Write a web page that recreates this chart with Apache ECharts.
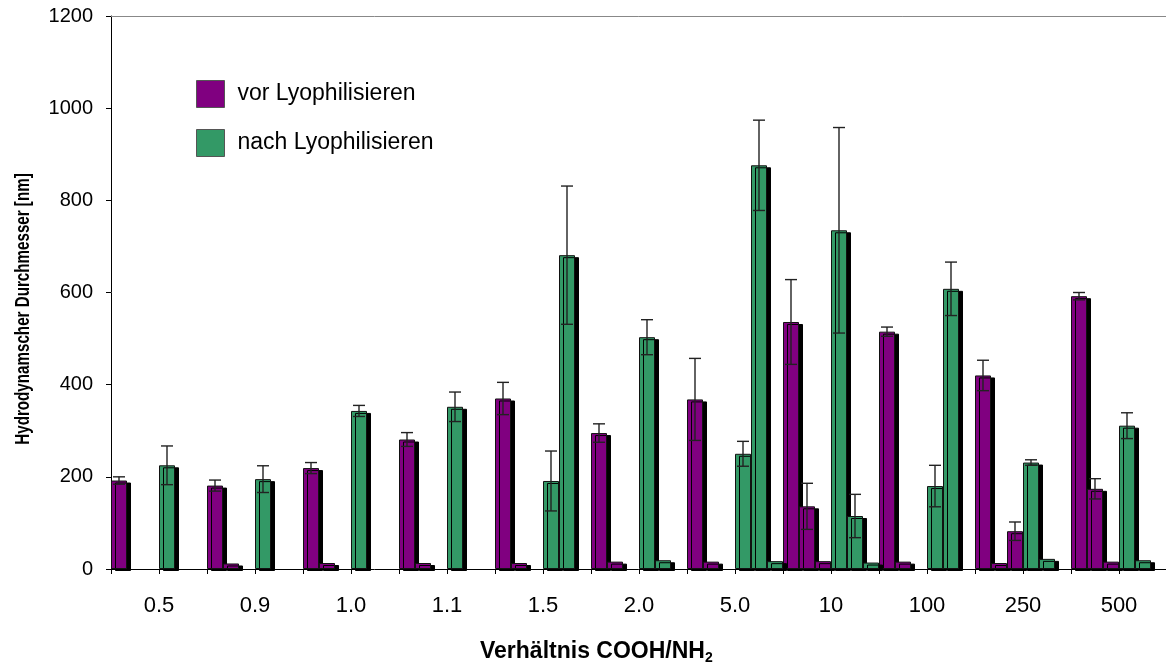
<!DOCTYPE html>
<html>
<head>
<meta charset="utf-8">
<script src="https://cdn.jsdelivr.net/npm/echarts@6/dist/echarts.min.js"></script>
<style>
  html, body { margin: 0; padding: 0; background: #fff; }
  #chart { width: 1166px; height: 668px; }
</style>
</head>
<body>
<div id="chart"></div>
<script>
const FONT = '"Liberation Sans", Arial, sans-serif';

const ratios = ['0.5', '0.9', '1.0', '1.1', '1.5', '2.0', '5.0', '10', '100', '250', '500'];

// vor Lyophilisieren, peaks 1..3 (nm) and their errors
const vorPeak1 = [192, 181, 219, 281, 370, 295, 368, 536, 515, 420, 592];
const vorPeak1Err = [8, 12, 12, 15, 35, 20, 89, 92, 10, 33, 8];
const vorPeak2 = [null, 12, 13, 13, 13, 16, 16, 136, 16, 13, 174];
const vorPeak2Err = [null, null, null, null, null, null, null, 50, null, null, 22];
const vorPeak3 = [null, null, null, null, null, null, null, 17, null, 82, 16];
const vorPeak3Err = [null, null, null, null, null, null, null, null, null, 20, null];

// nach Lyophilisieren
const nachPeak1 = [225, 195, 343, 352, 191, 503, 250, 735, 180, 231, 311];
const nachPeak1Err = [42, 29, 12, 32, 65, 38, 27, 223, 45, 6, 28];
const nachPeak2 = [null, null, null, null, 681, 19, 876, 115, 608, 22, 19];
const nachPeak2Err = [null, null, null, null, 150, null, 98, 47, 58, null, null];
const nachPeak3 = [null, null, null, null, null, null, 17, 14, null, null, null];
const nachPeak3Err = [null, null, null, null, null, null, null, null, null, null, null];

const VOR = 'vor Lyophilisieren';
const NACH = 'nach Lyophilisieren';
const PURPLE = '#800080';
const GREEN = '#339966';

// two slots per ratio: even = vor, odd = nach
const slots = ratios.flatMap(r => [r + ' vor', r + ' nach']);

function slotData(values, side) {
    return slots.map((_, s) => {
        if (s % 2 !== side) return '-';
        const v = values[Math.floor(s / 2)];
        return v == null ? '-' : v;
    });
}

function errData(values, errs, side, peak) {
    const out = [];
    values.forEach((v, g) => {
        if (v != null && errs[g] != null) out.push([2 * g + side, peak, v, errs[g]]);
    });
    return out;
}

function barSeries(name, values, side, stack, color) {
    return {
        name: name,
        type: 'bar',
        stack: stack,
        data: slotData(values, side),
        barGap: '0%',
        barCategoryGap: '0%',
        itemStyle: {
            color: color,
            borderColor: '#111',
            borderWidth: 1,
            shadowColor: '#000',
            shadowBlur: 0,
            shadowOffsetX: 4,
            shadowOffsetY: 2
        },
        emphasis: { disabled: true }
    };
}

const errPoints = [].concat(
    errData(vorPeak1, vorPeak1Err, 0, 0),
    errData(vorPeak2, vorPeak2Err, 0, 1),
    errData(vorPeak3, vorPeak3Err, 0, 2),
    errData(nachPeak1, nachPeak1Err, 1, 0),
    errData(nachPeak2, nachPeak2Err, 1, 1),
    errData(nachPeak3, nachPeak3Err, 1, 2)
);

function renderErr(params, api) {
    const s = api.value(0);
    const k = api.value(1);
    const v = api.value(2);
    const e = api.value(3);
    const band = api.size([1, 0])[0];
    const cx = api.coord([s, v])[0] + (k - 1) * band / 3;
    const yTop = api.coord([s, v + e])[1];
    const yBot = api.coord([s, Math.max(v - e, 0)])[1];
    const cap = 6;
    const st = { stroke: '#222', lineWidth: 1.4 };
    return {
        type: 'group',
        children: [
            { type: 'line', shape: { x1: cx, y1: yTop, x2: cx, y2: yBot }, style: st },
            { type: 'line', shape: { x1: cx - cap, y1: yTop, x2: cx + cap, y2: yTop }, style: st },
            { type: 'line', shape: { x1: cx - cap, y1: yBot, x2: cx + cap, y2: yBot }, style: st }
        ]
    };
}

const chart = echarts.init(document.getElementById('chart'));

const option = {
    animation: false,
    backgroundColor: '#fff',
    textStyle: { fontFamily: FONT },
    grid: { left: 111, right: -1, top: 16, bottom: 99, outerBoundsMode: 'none' },
    legend: {
        data: [VOR, NACH],
        orient: 'vertical',
        left: 196,
        top: 80,
        padding: 0,
        itemWidth: 28,
        itemHeight: 27,
        itemGap: 21,
        icon: 'rect',
        selectedMode: false,
        itemStyle: { borderColor: '#555', borderWidth: 1, shadowColor: 'rgba(0,0,0,0)', shadowOffsetX: 0, shadowOffsetY: 0 },
        textStyle: { fontSize: 23, color: '#000', fontFamily: FONT, padding: [0, 0, 0, 8] }
    },
    xAxis: [
        {
            type: 'category',
            data: slots,
            position: 'bottom',
            boundaryGap: true,
            axisLine: { lineStyle: { color: '#000', width: 1 } },
            axisTick: { show: true, interval: 0, length: 5, lineStyle: { color: '#000' } },
            axisLabel: { show: false },
            splitLine: { show: false }
        },
        {
            type: 'category',
            data: ratios,
            position: 'bottom',
            axisLine: { show: false },
            axisTick: { show: false },
            axisLabel: { interval: 0, fontSize: 22, margin: 26, color: '#000', fontFamily: FONT },
            splitLine: { show: false }
        },
        {
            type: 'category',
            data: ratios,
            position: 'top',
            axisLine: { lineStyle: { color: '#888', width: 1 } },
            axisTick: { show: false },
            axisLabel: { show: false },
            splitLine: { show: false }
        }
    ],
    yAxis: {
        type: 'value',
        min: 0,
        max: 1200,
        interval: 200,
        axisLine: { show: true, lineStyle: { color: '#000', width: 1 } },
        axisTick: { show: true, length: 5, lineStyle: { color: '#000' } },
        axisLabel: { fontSize: 20, margin: 18, color: '#000', fontFamily: FONT, formatter: v => String(v) },
        splitLine: { show: false }
    },
    graphic: [
        {
            type: 'text',
            x: 23,
            y: 309,
            rotation: Math.PI / 2,
            scaleX: 0.74,
            style: {
                text: 'Hydrodynamscher Durchmesser [nm]',
                fontSize: 20.5,
                fontWeight: 'bold',
                fontFamily: FONT,
                fill: '#000',
                align: 'center',
                verticalAlign: 'middle'
            }
        },
        {
            type: 'text',
            left: 480,
            top: 640,
            style: {
                text: '{a|Verhältnis COOH/NH}{s|2}',
                fill: '#000',
                rich: {
                    a: { fontSize: 23, fontWeight: 'bold', fontFamily: FONT, lineHeight: 27 },
                    s: { fontSize: 14, fontWeight: 'bold', fontFamily: FONT, lineHeight: 8, verticalAlign: 'bottom' }
                }
            }
        }
    ],
    series: [
        barSeries(VOR, vorPeak1, 0, 'p1', PURPLE),
        barSeries(VOR, vorPeak2, 0, 'p2', PURPLE),
        barSeries(VOR, vorPeak3, 0, 'p3', PURPLE),
        barSeries(NACH, nachPeak1, 1, 'p1', GREEN),
        barSeries(NACH, nachPeak2, 1, 'p2', GREEN),
        barSeries(NACH, nachPeak3, 1, 'p3', GREEN),
        {
            type: 'custom',
            name: 'err',
            renderItem: renderErr,
            data: errPoints,
            encode: { x: 0, y: 2 },
            z: 10,
            silent: true
        }
    ]
};

chart.setOption(option);
</script>
</body>
</html>
